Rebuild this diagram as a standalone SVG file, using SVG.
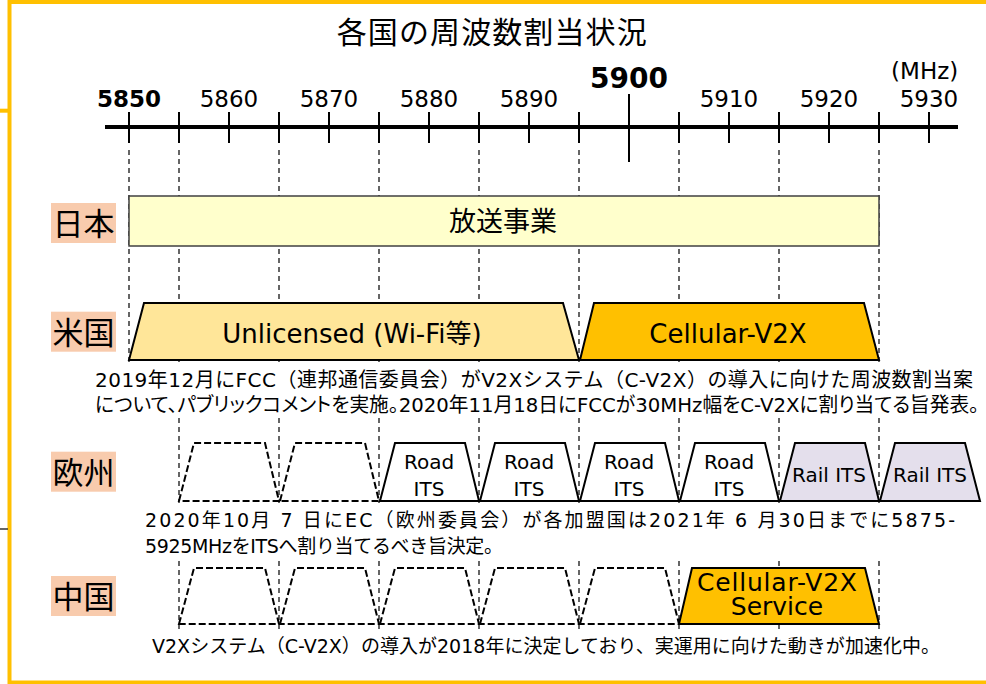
<svg xmlns="http://www.w3.org/2000/svg" width="986" height="684" viewBox="0 0 986 684">
<style>
.lat{font-family:"DejaVu Sans","Noto Sans CJK JP",sans-serif;fill:#000}
.jp{font-family:"DejaVu Sans","Noto Sans CJK JP",sans-serif;fill:#000}
.cjk{font-family:"Noto Sans CJK JP",sans-serif;fill:#000}
.tick{stroke:#000;stroke-width:2}
.grid{stroke:#333;stroke-width:1.5;stroke-dasharray:5 4;fill:none}
.dtrap{fill:#fff;stroke:#000;stroke-width:2;stroke-dasharray:7 3}
.strap{stroke:#000;stroke-width:2;stroke-linejoin:miter}
.lab{fill:#F8CBAD}
.mid{text-anchor:middle}
</style>
<rect x="9.5" y="2" width="1000" height="680.5" fill="#fff" stroke="#FFC000" stroke-width="4"/>
<rect x="0" y="108.7" width="9" height="4" fill="#FFC000"/>
<line x1="0" y1="529" x2="8" y2="529" stroke="#333" stroke-width="1.5"/>

<text class="cjk mid" x="491.7" y="43" font-size="30" textLength="310">各国の周波数割当状況</text>

<g id="axis">
<line x1="105" y1="127" x2="958" y2="127" stroke="#000" stroke-width="4"/>
<path class="tick" d="M129 112V143M179 112V143M229 112V143M279 112V143M329 112V143M379 112V143M429 112V143M479 112V143M529 112V143M579 112V143M629 94V162M679 112V143M729 112V143M779 112V143M829 112V143M879 112V143M929 112V143"/>
<g class="lat mid" font-size="23">
<text x="129" y="107" font-weight="bold">5850</text>
<text x="229" y="107">5860</text>
<text x="329" y="107">5870</text>
<text x="429" y="107">5880</text>
<text x="529" y="107">5890</text>
<text x="629" y="88" font-size="28" font-weight="bold">5900</text>
<text x="729" y="107">5910</text>
<text x="829" y="107">5920</text>
<text x="929" y="107">5930</text>
<text x="924.7" y="79">(MHz)</text>
</g>
</g>

<g id="connectors">
<path class="grid" d="M129 150V363M179 150V363M279 150V363M379 150V363M479 150V363M579 150V363M679 150V363M779 150V363M879 150V363"/>
<path class="grid" d="M179 418V503M279 418V503M379 418V503M479 418V503M579 418V503M679 418V503M779 418V503M879 418V503"/>
<path class="grid" d="M179 561V630M279 561V630M379 561V630M479 561V630M579 561V630M679 561V630M779 561V630M879 561V630"/>
</g>

<g id="label-japan">
<rect class="lab" x="51" y="203" width="65" height="40"/>
<text class="cjk mid" x="83.5" y="234.5" font-size="31">日本</text>
</g>
<g id="label-us">
<rect class="lab" x="51" y="311.7" width="65" height="40"/>
<text class="cjk mid" x="83.5" y="343.5" font-size="31">米国</text>
</g>
<g id="label-eu">
<rect class="lab" x="51" y="451.7" width="65" height="40"/>
<text class="cjk mid" x="83.5" y="483.5" font-size="31">欧州</text>
</g>
<g id="label-china">
<rect class="lab" x="51" y="576" width="65" height="40"/>
<text class="cjk mid" x="83.5" y="608" font-size="31">中国</text>
</g>

<g id="jp-broadcast">
<rect x="129" y="196" width="750" height="50" fill="#FFFFCC" stroke="#404040" stroke-width="1.5"/>
<text class="cjk mid" x="503" y="231" font-size="27">放送事業</text>
</g>

<g id="us-unlicensed">
<polygon class="strap" points="129,360 144,303 563,303 579,360" fill="#FFE699"/>
<text class="jp mid" x="352" y="343" font-size="26">Unlicensed (Wi-Fi等)</text>
</g>
<g id="us-cv2x">
<polygon class="strap" points="580,360 594,303 864,303 879,360" fill="#FFC000"/>
<text class="lat mid" x="728" y="343" font-size="26">Cellular-V2X</text>
</g>
<g id="us-note" class="jp" font-size="20">
<text x="95" y="387" textLength="878">2019年12月にFCC（連邦通信委員会）がV2Xシステム（C-V2X）の導入に向けた周波数割当案</text>
<text x="95" y="412" textLength="884" lengthAdjust="spacingAndGlyphs" style="font-feature-settings:'palt'">について、パブリックコメントを実施。2020年11月18日にFCCが30MHz幅をC-V2Xに割り当てる旨発表。</text>
</g>

<g id="eu-empty1"><polygon class="dtrap" points="179,501 194,443 265,443 279,501"/></g>
<g id="eu-empty2"><polygon class="dtrap" points="280,501 295,443 365,443 379,501"/></g>
<g id="eu-road1">
<polygon class="strap" points="380,501 395,443 465,443 479,501" fill="#fff"/>
<text class="lat mid" x="429" y="469" font-size="20">Road</text>
<text class="lat mid" x="429" y="496" font-size="20">ITS</text>
</g>
<g id="eu-road2">
<polygon class="strap" points="480,501 495,443 565,443 579,501" fill="#fff"/>
<text class="lat mid" x="529" y="469" font-size="20">Road</text>
<text class="lat mid" x="529" y="496" font-size="20">ITS</text>
</g>
<g id="eu-road3">
<polygon class="strap" points="580,501 595,443 665,443 679,501" fill="#fff"/>
<text class="lat mid" x="629" y="469" font-size="20">Road</text>
<text class="lat mid" x="629" y="496" font-size="20">ITS</text>
</g>
<g id="eu-road4">
<polygon class="strap" points="680,501 695,443 765,443 779,501" fill="#fff"/>
<text class="lat mid" x="729" y="469" font-size="20">Road</text>
<text class="lat mid" x="729" y="496" font-size="20">ITS</text>
</g>
<g id="eu-rail1">
<polygon class="strap" points="780,501 795,443 865,443 879,501" fill="#E4DFEC"/>
<text class="lat mid" x="829" y="482" font-size="20">Rail ITS</text>
</g>
<g id="eu-rail2">
<polygon class="strap" points="880,501 895,443 965,443 980,501" fill="#E4DFEC"/>
<text class="lat mid" x="930" y="482" font-size="20">Rail ITS</text>
</g>
<g id="eu-note" class="jp" font-size="19">
<text x="145" y="527" textLength="810">2020年10月 7 日にEC（欧州委員会）が各加盟国は2021年 6 月30日までに5875-</text>
<text x="145" y="553" textLength="358">5925MHzをITSへ割り当てるべき旨決定。</text>
</g>

<g id="cn-empty1"><polygon class="dtrap" points="179,624 194,568 265,568 279,624"/></g>
<g id="cn-empty2"><polygon class="dtrap" points="280,624 295,568 365,568 379,624"/></g>
<g id="cn-empty3"><polygon class="dtrap" points="380,624 395,568 465,568 479,624"/></g>
<g id="cn-empty4"><polygon class="dtrap" points="480,624 495,568 565,568 579,624"/></g>
<g id="cn-empty5"><polygon class="dtrap" points="580,624 595,568 665,568 679,624"/></g>
<g id="cn-cv2x">
<polygon class="strap" points="679,624 692,568 865,568 879,624" fill="#FFC000"/>
<text class="lat mid" x="777" y="591" font-size="25" textLength="160">Cellular-V2X</text>
<text class="lat mid" x="777" y="615" font-size="25">Service</text>
</g>
<g id="cn-note" class="jp" font-size="19">
<text x="152" y="653" textLength="788">V2Xシステム（C-V2X）の導入が2018年に決定しており、実運用に向けた動きが加速化中。</text>
</g>
</svg>
